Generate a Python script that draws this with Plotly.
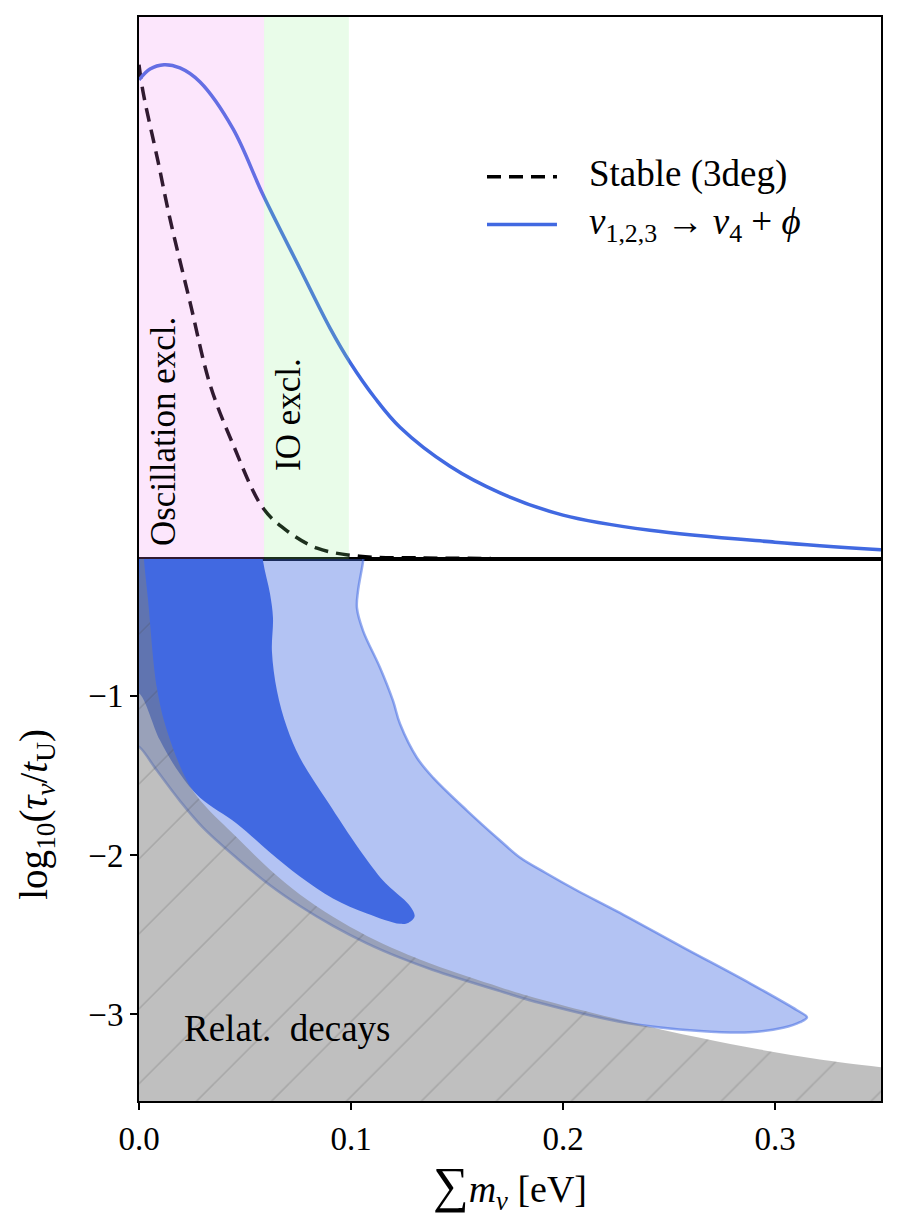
import plotly.graph_objects as go
from plotly.subplots import make_subplots

# ---- top panel: normalised posterior of the summed mass ----
stable_mass = [0.0, 0.0019, 0.009, 0.0146, 0.024, 0.0335, 0.0443, 0.0585, 0.0698, 0.084, 0.104, 0.133, 0.166]
stable_pdf = [0.912, 0.862, 0.733, 0.628, 0.475, 0.322, 0.212, 0.094, 0.052, 0.020, 0.005, 0.002, 0.001]

decay_mass = [0.0, 0.0052, 0.0118, 0.0193, 0.0288, 0.0443, 0.0585, 0.0759, 0.0901, 0.0995, 0.1113,
              0.1231, 0.1467, 0.1703, 0.2, 0.241, 0.3, 0.35]
decay_pdf = [0.884, 0.904, 0.912, 0.906, 0.880, 0.794, 0.672, 0.536, 0.426, 0.363, 0.297,
             0.243, 0.171, 0.122, 0.081, 0.053, 0.031, 0.017]

# excluded mass ranges [eV]
osc_excl = [0.0, 0.059]
io_excl = [0.059, 0.099]

# ---- bottom panel: contours in (sum m, log10 tau/tU) ----
sig2_mass = [-0.003, 0.107, 0.1068, 0.1057, 0.1033, 0.1028, 0.1057, 0.1137, 0.1198, 0.1231, 0.1311, 0.1387,
             0.1547, 0.1703, 0.1797, 0.1915, 0.2066, 0.2255, 0.2566, 0.2882, 0.3104, 0.3151, 0.3118, 0.3038,
             0.2882, 0.2646, 0.2302, 0.1892, 0.1703, 0.1387, 0.1231, 0.1075, 0.0915, 0.0759, 0.0618,
             0.0462, 0.0302, 0.0193, 0.0085, 0.0005, -0.003, -0.003]
sig2_logtau = [0.3, 0.3, 0.0, -0.154, -0.342, -0.448, -0.592, -0.824, -1.031, -1.176, -1.389, -1.514,
               -1.721, -1.909, -2.016, -2.110, -2.223, -2.354, -2.580, -2.806, -2.975, -3.019, -3.050, -3.085,
               -3.113, -3.105, -3.055, -2.930, -2.855, -2.722, -2.645, -2.555, -2.445, -2.320, -2.190,
               -2.020, -1.828, -1.660, -1.470, -1.326, -1.30, 0.3]

sig1_mass = [-0.003, 0.057, 0.0575, 0.0585, 0.0618, 0.0632, 0.0627, 0.0651, 0.0698, 0.0759, 0.0887, 0.1042,
             0.1151, 0.1198, 0.1278, 0.1300, 0.1272, 0.1231, 0.1075, 0.0915, 0.0759, 0.0618, 0.0462,
             0.0288, 0.0193, 0.0099, 0.0005, -0.003, -0.003]
sig1_logtau = [0.3, 0.3, 0.0, -0.154, -0.36, -0.51, -0.72, -0.97, -1.20, -1.39, -1.66, -1.97,
               -2.16, -2.22, -2.32, -2.385, -2.425, -2.432, -2.367, -2.273, -2.135, -1.984, -1.803,
               -1.64, -1.49, -1.28, -0.99, -0.97, 0.3]

relat_mass = [0.0012, 0.0024, 0.0042, 0.0085, 0.0132, 0.0226, 0.0302, 0.0462, 0.0618, 0.0759, 0.0915,
              0.1075, 0.1231, 0.1387, 0.1703, 0.1892, 0.2302, 0.2646, 0.2929, 0.3212, 0.35]
relat_logtau = [0.1, -0.154, -0.39, -0.956, -1.219, -1.533, -1.677, -1.890, -2.093, -2.248, -2.388,
                -2.508, -2.605, -2.688, -2.830, -2.906, -3.045, -3.148, -3.222, -3.284, -3.333]

x_range = [0.0, 0.35]
y_range = [-3.545, -0.141]
x_ticks = [0.0, 0.1, 0.2, 0.3]
y_ticks = [-1, -2, -3]

FONT = "Liberation Serif"
BLUE = "#4169e1"

fig = make_subplots(rows=2, cols=1, shared_xaxes=True, vertical_spacing=0)

fig.add_trace(go.Scatter(x=stable_mass, y=stable_pdf, mode="lines", line_shape="spline",
                         line=dict(color="black", width=3.5, dash="14px,8px"),
                         name="Stable (3deg)", showlegend=False), row=1, col=1)
fig.add_trace(go.Scatter(x=decay_mass, y=decay_pdf, mode="lines", line_shape="spline",
                         line=dict(color=BLUE, width=3.5),
                         name="decay", showlegend=False), row=1, col=1)

fig.add_trace(go.Scatter(x=sig2_mass, y=sig2_logtau, mode="lines", fill="toself",
                         line_shape="spline", line=dict(color="rgba(65,105,225,0.55)", width=2.5, smoothing=1.0),
                         fillcolor="rgba(65,105,225,0.4)", showlegend=False, hoverinfo="skip"), row=2, col=1)
fig.add_trace(go.Scatter(x=sig1_mass, y=sig1_logtau, mode="lines", fill="toself",
                         line_shape="spline", line=dict(color=BLUE, width=0, smoothing=1.0),
                         fillcolor=BLUE, showlegend=False, hoverinfo="skip"), row=2, col=1)

# relativistic-decay region: filled from a baseline below the axis up to the boundary curve
fig.add_trace(go.Scatter(x=[x_range[0] - 0.01, x_range[1] + 0.01], y=[y_range[0] - 0.1] * 2,
                         mode="lines", line=dict(width=0), showlegend=False, hoverinfo="skip"),
              row=2, col=1)
fig.add_trace(go.Scatter(x=relat_mass, y=relat_logtau, mode="lines", fill="tonexty",
                         line_shape="spline", line=dict(width=0, smoothing=1.0),
                         fillcolor="rgba(128,128,128,0.5)",
                         fillpattern=dict(shape="/", size=53, solidity=0.03,
                                          fgcolor="rgba(70,70,70,0.4)",
                                          bgcolor="rgba(128,128,128,0.5)"),
                         showlegend=False, hoverinfo="skip"), row=2, col=1)

# excluded bands
for band, col in [(osc_excl, "rgba(238,130,238,0.2)"), (io_excl, "rgba(144,238,144,0.2)")]:
    fig.add_shape(type="rect", xref="x", yref="y domain", x0=band[0], x1=band[1], y0=0, y1=1,
                  fillcolor=col, line_width=0, layer="above")

fig.add_annotation(x=0.0113, y=0.236, xref="x", yref="y", text="Oscillation excl.", textangle=-90,
                   showarrow=False, font=dict(family=FONT, size=35, color="black"))
fig.add_annotation(x=0.0708, y=0.266, xref="x", yref="y", text="IO excl.", textangle=-90,
                   showarrow=False, font=dict(family=FONT, size=35, color="black"))
fig.add_annotation(x=0.0203, y=-3.09, xref="x2", yref="y2", text="Relat.  decays", xanchor="left",
                   showarrow=False, font=dict(family=FONT, size=37, color="black"))

# legend drawn by hand so the line samples match
fig.add_shape(type="line", xref="paper", yref="paper", x0=0.469, x1=0.5633, y0=0.8527, y1=0.8527,
              line=dict(color="black", width=3.5, dash="14px,8px"))
fig.add_shape(type="line", xref="paper", yref="paper", x0=0.469, x1=0.5633, y0=0.8085, y1=0.8085,
              line=dict(color=BLUE, width=3.5))
fig.add_annotation(x=0.6038, y=0.8555, xref="paper", yref="paper", text="Stable (3deg)",
                   xanchor="left", yanchor="middle", showarrow=False,
                   font=dict(family=FONT, size=37, color="black"))
fig.add_annotation(x=0.6038, y=0.8085, xref="paper", yref="paper",
                   text="<i>ν</i><sub>1,2,3</sub> → <i>ν</i><sub>4</sub> + <i>ϕ</i>",
                   xanchor="left", yanchor="middle", showarrow=False,
                   font=dict(family=FONT, size=37, color="black"))

# y title as an annotation so it sits a little above the panel centre, as in the reference
fig.add_annotation(x=-0.1375, y=0.265, xref="paper", yref="paper", textangle=-90,
                   text="log<sub>10</sub>(<i>τ<sub>ν</sub></i>/<i>t</i><sub>U</sub>)",
                   xanchor="center", yanchor="middle", showarrow=False,
                   font=dict(family=FONT, size=39, color="black"))

axis_common = dict(showline=True, linecolor="black", linewidth=2, mirror=True, showgrid=False,
                   zeroline=False)
fig.update_xaxes(range=x_range, **axis_common)
fig.update_yaxes(**axis_common)
fig.update_xaxes(ticks="", showticklabels=False, row=1, col=1)
fig.update_yaxes(range=[0, 1], ticks="", showticklabels=False, row=1, col=1)
fig.update_xaxes(tickvals=x_ticks, ticktext=[f"{v:.1f}" for v in x_ticks], ticks="outside",
                 ticklen=7, tickwidth=1.5, tickcolor="black",
                 tickfont=dict(family=FONT, size=33, color="black"),
                 title=dict(text="<span style='font-size:50px'>∑</span><i>m<sub>ν</sub></i> [eV]",
                            font=dict(family=FONT, size=38, color="black"), standoff=12),
                 row=2, col=1)
fig.update_yaxes(range=y_range, tickvals=y_ticks, ticks="outside", ticklen=7, tickwidth=1.5,
                 tickcolor="black", tickfont=dict(family=FONT, size=33, color="black"),
                 row=2, col=1)

# page body adds an 8 px offset, so margins are shifted to keep the frame where it belongs
fig.update_layout(width=898, height=1224, margin=dict(l=131, r=25, t=7, b=131),
                  paper_bgcolor="white", plot_bgcolor="white", showlegend=False)

fig.write_html("out.html")
